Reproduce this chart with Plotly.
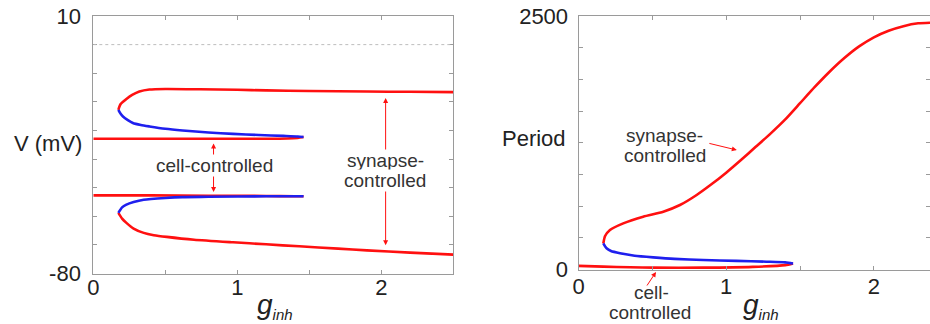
import plotly.graph_objects as go

# ---------------- Left panel: V (mV) vs g_inh ----------------
up_red_g = [0.174, 0.19, 0.23, 0.27, 0.32, 0.39, 0.5, 0.74, 1.0, 1.2, 1.5, 1.9, 2.2, 2.5]
up_red_v = [-22.8, -20.8, -19.0, -17.6, -16.4, -15.7, -15.5, -15.6, -15.8, -16.0, -16.2, -16.4, -16.5, -16.6]

up_blue_g = [0.174, 0.19, 0.206, 0.24, 0.275, 0.33, 0.39, 0.5, 0.62, 0.8, 0.97, 1.15, 1.32, 1.42, 1.46]
up_blue_v = [-22.8, -24.2, -25.1, -26.4, -27.4, -28.1, -28.6, -29.4, -30.0, -30.7, -31.2, -31.6, -31.9, -32.1, -32.3]

mid_red_g = [1.46, 1.42, 1.35, 1.2, 0.8, 0.4, 0.0]
mid_red_v = [-32.3, -32.6, -32.8, -32.9, -32.9, -32.9, -32.9]

low_blue_g = [1.46, 1.2, 0.8, 0.62, 0.5, 0.35, 0.28, 0.23, 0.2, 0.174]
low_blue_v = [-53.0, -53.0, -53.2, -53.3, -53.6, -54.2, -55.0, -55.9, -56.9, -58.8]

low_hor_red_g = [0.0, 0.4, 0.8, 1.2, 1.4, 1.46]
low_hor_red_v = [-52.7, -52.7, -52.8, -52.9, -53.0, -53.0]

low_red_g = [0.174, 0.2, 0.23, 0.28, 0.35, 0.42, 0.51, 0.7, 0.97, 1.2, 1.43, 1.7, 1.9, 2.2, 2.5]
low_red_v = [-58.8, -60.8, -62.3, -64.3, -65.8, -66.6, -67.2, -68.2, -69.1, -69.8, -70.5, -71.3, -71.9, -72.7, -73.4]

# ---------------- Right panel: Period vs g_inh ----------------
per_red_g = [0.168, 0.18, 0.213, 0.303, 0.438, 0.574, 0.687, 0.8, 0.9, 1.0, 1.1, 1.2, 1.3, 1.4,
             1.5, 1.6, 1.7, 1.8, 1.9, 2.0, 2.1, 2.2, 2.3, 2.38]
per_red_p = [257, 330, 390, 455, 521, 570, 636, 735, 840, 955, 1080, 1210, 1340, 1480,
             1640, 1800, 1950, 2085, 2200, 2290, 2355, 2400, 2428, 2434]

per_blue_g = [0.168, 0.19, 0.22, 0.281, 0.38, 0.506, 0.65, 0.844, 1.07, 1.273, 1.4, 1.453]
per_blue_p = [257, 209, 182, 160, 136, 120, 105, 94, 85, 77, 70, 60]

per_low_g = [0.0, 0.168, 0.35, 0.506, 0.844, 1.18, 1.4, 1.453]
per_low_p = [36, 28, 22, 18, 18, 26, 43, 60]

xtick_vals = [0, 0.5, 1, 1.5, 2, 2.5]
xtick_text = ["0", "", "1", "", "2", ""]
vtick_vals = [10, 0, -10, -20, -30, -40, -50, -60, -70, -80]
vtick_text = ["10", "", "", "", "", "", "", "", "", "-80"]
ptick_vals = [0, 312.5, 625, 937.5, 1250, 1562.5, 1875, 2187.5, 2500]
ptick_text = ["0", "", "", "", "", "", "", "", "2500"]

RED = "#ff1010"
BLUE = "#1f1fee"
LW = 2.6

fig = go.Figure()


def add_line(g, v, color, xa, ya):
    fig.add_trace(go.Scatter(x=g, y=v, mode="lines",
                             line=dict(color=color, width=LW, shape="spline", smoothing=0.6),
                             xaxis=xa, yaxis=ya, showlegend=False, hoverinfo="skip"))


add_line(up_red_g, up_red_v, RED, "x", "y")
add_line(mid_red_g, mid_red_v, RED, "x", "y")
add_line(low_hor_red_g, low_hor_red_v, RED, "x", "y")
add_line(low_red_g, low_red_v, RED, "x", "y")
add_line(up_blue_g, up_blue_v, BLUE, "x", "y")
add_line(low_blue_g, low_blue_v, BLUE, "x", "y")

add_line(per_red_g, per_red_p, RED, "x2", "y2")
add_line(per_low_g, per_low_p, RED, "x2", "y2")
add_line(per_blue_g, per_blue_p, BLUE, "x2", "y2")

W, H = 930, 324
AX = "#9a9a9a"
TICKFONT = dict(family="Liberation Sans, Arial, sans-serif", size=22, color="#222")


def axstyle(**kw):
    d = dict(showline=True, linecolor=AX, linewidth=1, mirror="ticks", ticks="inside",
             ticklen=4, tickcolor=AX, tickwidth=1, showgrid=False, zeroline=False,
             tickfont=TICKFONT, fixedrange=True, automargin=False)
    d.update(kw)
    return d


fig.update_layout(
    template="none",
    width=W, height=H, margin=dict(l=0, r=0, t=0, b=0, autoexpand=False),
    paper_bgcolor="white", plot_bgcolor="white",
    xaxis=axstyle(domain=[93.3 / W, 453.3 / W], range=[0, 2.5], tickmode="array",
                  tickvals=xtick_vals, ticktext=xtick_text, anchor="y", ticklabelstandoff=-6),
    yaxis=axstyle(domain=[1 - 273.5 / H, 1 - 16 / H], range=[-80, 10], tickmode="array",
                  tickvals=vtick_vals, ticktext=vtick_text, anchor="x", ticklabelstandoff=7),
    xaxis2=axstyle(domain=[578.5 / W, 1.0], range=[0, 2.38], tickmode="array",
                   tickvals=xtick_vals, ticktext=xtick_text, anchor="y2", ticklabelstandoff=-3),
    yaxis2=axstyle(domain=[1 - 269.5 / H, 1 - 16 / H], range=[0, 2500], tickmode="array",
                   tickvals=ptick_vals, ticktext=ptick_text, anchor="x2", ticklabelstandoff=5),
)

# dotted reference line at 0 mV
fig.add_shape(type="line", xref="x", yref="y", x0=0, x1=2.5, y0=0, y1=0,
              line=dict(color="#bdbdbd", width=1, dash="dot"))

TXT = dict(family="Liberation Sans, Arial, sans-serif", size=19, color="#333")
LBL = dict(family="Liberation Sans, Arial, sans-serif", size=22, color="#222")


def ptext(px, py, text, font, **kw):
    d = dict(xref="paper", yref="paper", x=px / W, y=1 - py / H, text=text, showarrow=False,
             font=font, xanchor="center", yanchor="middle")
    d.update(kw)
    return d


ann = []
# double arrows (left)
for (xx, y0, y1) in [(0.835, -34.0, -51.5), (2.03, -18.1, -70.1)]:
    ann.append(dict(xref="x", yref="y", axref="x", ayref="y", x=xx, y=y1, ax=xx, ay=y0,
                    text="", showarrow=True, arrowhead=2, startarrowhead=2, arrowside="end+start",
                    arrowsize=1, startarrowsize=1, arrowwidth=1, arrowcolor=RED))
ann.append(dict(xref="x", yref="y", x=0.84, y=-42.2, text="cell-controlled", showarrow=False,
                font=TXT, bgcolor="white", borderpad=0, xanchor="center", yanchor="middle"))
ann.append(ptext(385, 160, "synapse-", TXT, bgcolor="white", borderpad=0))
ann.append(ptext(385, 180, "controlled", TXT, bgcolor="white", borderpad=0))

# right arrows (pixel offsets for tails)
ann.append(dict(xref="x2", yref="y2", axref="x2", ayref="y2", x=1.072, y=1178, ax=0.876, ay=1247,
                text="", showarrow=True, arrowhead=2, arrowsize=1, arrowwidth=1, arrowcolor=RED))
ann.append(dict(xref="paper", yref="paper", x=656 / W, y=1 - 272 / H, ax=-10, ay=15,
                text="", showarrow=True, arrowhead=2, arrowsize=1, arrowwidth=1, arrowcolor=RED))
ann.append(ptext(664, 135, "synapse-", TXT))
ann.append(ptext(665, 155, "controlled", TXT))
ann.append(ptext(651, 292, "cell-", TXT))
ann.append(ptext(650, 312, "controlled", TXT))

# axis titles
ann.append(ptext(47.5, 143, "V (mV)", LBL))
ann.append(ptext(533.5, 138.5, "Period", LBL))
GTXT = "<i>g</i><sub><span style='font-size:15px'><i>inh</i></span></sub>"
GF = dict(family="Liberation Sans, Arial, sans-serif", size=28, color="#222")
ann.append(ptext(275, 306, GTXT, GF))
ann.append(ptext(761, 306, GTXT, GF))

fig.update_layout(annotations=ann)

fig.write_html("out.html")
